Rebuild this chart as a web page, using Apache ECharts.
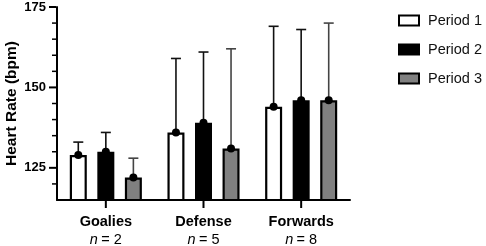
<!DOCTYPE html>
<html lang="en">
<head>
  <meta charset="UTF-8">
  <title>Heart Rate</title>
  <style>
    html, body { margin: 0; padding: 0; background: #fff; }
    #chart { width: 486px; height: 246px; }
  </style>
</head>
<body>
  <div id="chart"></div>
  <script src="https://cdn.jsdelivr.net/npm/echarts@6/dist/echarts.min.js"></script>
  <script>
    var groups = ['Goalies', 'Defense', 'Forwards']
    var groupN = [2, 5, 8]
    var periods = ['Period 1', 'Period 2', 'Period 3']
    // mean heart rate per period, one value per group
    var period1 = [129, 136, 144]
    var period2 = [130, 139, 146]
    var period3 = [122, 131, 146]
    // top of the error bar (mean + SD)
    var period1Upper = [133, 159, 169]
    var period2Upper = [136, 161, 168]
    var period3Upper = [128, 162, 170]
    var yTicks = [125, 150, 175]
    var yMinorTicks = [120, 130, 135, 140, 145, 155, 160, 165, 170]

    var fills = ['#ffffff', '#000000', '#808080']
    var whiskerColors = ['#111', '#111', '#444']
    var barWidth = 17
    var barGap = 0.62

    var means = [period1, period2, period3]
    var uppers = [period1Upper, period2Upper, period3Upper]

    // [group, period, mean, upper]
    var errData = []
    for (var p = 0; p < 3; p++) {
      for (var g = 0; g < groups.length; g++) {
        errData.push([g, p, means[p][g], uppers[p][g]])
      }
    }

    var font = 'Liberation Sans, Arial, sans-serif'
    var myChart = echarts.init(document.getElementById('chart'))

    var series = periods.map(function (name, i) {
      return {
        name: name,
        type: 'bar',
        data: means[i],
        barWidth: barWidth,
        barGap: (barGap * 100) + '%',
        itemStyle: { color: fills[i], borderColor: '#000', borderWidth: 2.2 }
      }
    })

    // error bars + mean dots
    series.push({
      type: 'custom',
      data: errData,
      encode: { x: 0, y: [2, 3] },
      z: 5,
      silent: true,
      renderItem: function (params, api) {
        var p = api.value(1)
        var off = (p - 1) * barWidth * (1 + barGap)
        var base = api.coord([api.value(0), api.value(2)])
        var top = api.coord([api.value(0), api.value(3)])
        var x = base[0] + off
        var st = { stroke: whiskerColors[p], lineWidth: 1.6 }
        return {
          type: 'group',
          children: [
            { type: 'line', shape: { x1: x, y1: base[1], x2: x, y2: top[1] }, style: st },
            { type: 'line', shape: { x1: x - 5, y1: top[1], x2: x + 5, y2: top[1] }, style: st },
            { type: 'circle', shape: { cx: x, cy: base[1], r: 4 }, style: { fill: '#000' } }
          ]
        }
      }
    })

    var option = {
      animation: false,
      grid: { left: 57, right: 136, top: 7, bottom: 46, outerBoundsMode: 'none' },
      legend: {
        data: periods,
        orient: 'vertical',
        left: 393,
        top: 8,
        itemWidth: 20,
        itemHeight: 10,
        itemGap: 14,
        icon: 'rect',
        itemStyle: { borderColor: '#000', borderWidth: 2 },
        textStyle: { fontFamily: font, fontSize: 14.5, color: '#111', padding: [0, 0, 0, 4] }
      },
      xAxis: {
        type: 'category',
        data: groups,
        axisLine: { show: true, lineStyle: { color: '#000', width: 2 } },
        axisTick: { show: false },
        axisLabel: {
          margin: 13,
          lineHeight: 18,
          formatter: function (v, i) {
            return '{b|' + v + '}\n{i|n} {r|= ' + groupN[i] + '}'
          },
          rich: {
            b: { fontFamily: font, fontSize: 14.5, fontWeight: 'bold', color: '#000', lineHeight: 18 },
            i: { fontFamily: font, fontSize: 14.5, fontStyle: 'italic', color: '#000', lineHeight: 18 },
            r: { fontFamily: font, fontSize: 14.5, color: '#000', lineHeight: 18 }
          }
        }
      },
      yAxis: {
        type: 'value',
        min: 115,
        max: 175,
        interval: 5,
        name: 'Heart Rate (bpm)',
        nameLocation: 'middle',
        nameGap: 37,
        nameMoveOverlap: false,
        nameTextStyle: { fontFamily: font, fontSize: 15.5, fontWeight: 'bold', color: '#000' },
        axisLine: { show: true, lineStyle: { color: '#000', width: 2 } },
        axisTick: { show: false },
        axisLabel: { customValues: yTicks, margin: 11, fontFamily: font, fontSize: 13, fontWeight: 'bold', color: '#000' },
        splitLine: { show: false }
      },
      series: series
    }
    myChart.setOption(option)

    // axis ticks as graphic lines, placed through the chart's own scales
    var rect = myChart.getModel().getComponent('grid').coordinateSystem.getRect()
    var ticks = []
    function yTick(v, len, w) {
      var y = myChart.convertToPixel({ yAxisIndex: 0 }, v)
      ticks.push({ type: 'line', z: 100, silent: true,
        shape: { x1: rect.x - 1 - len, y1: y, x2: rect.x - 1, y2: y },
        style: { stroke: '#000', lineWidth: w } })
    }
    yTicks.forEach(function (v) { yTick(v, 7, 2) })
    yMinorTicks.forEach(function (v) { yTick(v, 4, 1.5) })
    groups.forEach(function (name) {
      var x = myChart.convertToPixel({ xAxisIndex: 0 }, name)
      var y0 = rect.y + rect.height + 1
      ticks.push({ type: 'line', z: 100, silent: true,
        shape: { x1: x, y1: y0, x2: x, y2: y0 + 7 },
        style: { stroke: '#000', lineWidth: 2 } })
    })
    myChart.setOption({ graphic: { elements: ticks } })
  </script>
</body>
</html>
